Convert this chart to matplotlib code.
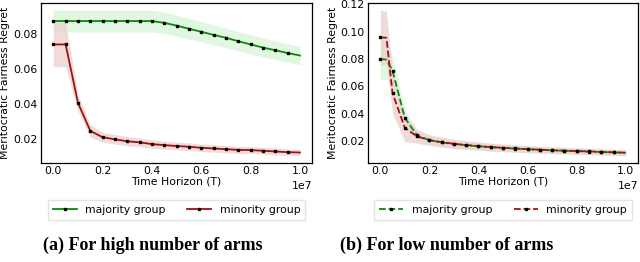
import numpy as np
import matplotlib
matplotlib.use("Agg")
import matplotlib.pyplot as plt

plt.rcParams.update({'font.size': 7.8, 'font.family': 'DejaVu Sans'})

# time horizon (in units of 1e7)
t_high = [0.0, 0.05, 0.1, 0.15, 0.2, 0.25, 0.3, 0.35, 0.4, 0.45, 0.5,
          0.55, 0.6, 0.65, 0.7, 0.75, 0.8, 0.85, 0.9, 0.95, 1.0]
maj_high = [0.0871, 0.0871, 0.0871, 0.0871, 0.0871, 0.0871, 0.0871, 0.0871, 0.0871,
            0.0861, 0.0845, 0.0827, 0.0810, 0.0792, 0.0776, 0.0756, 0.0738,
            0.0720, 0.0705, 0.0689, 0.0675]
maj_high_sd = [0.0062, 0.0062, 0.0062, 0.0062, 0.0062, 0.0062, 0.0062, 0.0062, 0.0062,
               0.0061, 0.0060, 0.0059, 0.0058, 0.0057, 0.0056, 0.0055, 0.0055,
               0.0054, 0.0053, 0.0053, 0.0052]
min_high = [0.0738, 0.0738, 0.0406, 0.0246, 0.0210, 0.0198, 0.0187, 0.0181, 0.0171,
            0.0165, 0.0160, 0.0156, 0.0150, 0.0146, 0.0142, 0.0138, 0.0137,
            0.0133, 0.0129, 0.0125, 0.0123]
min_high_sd = [0.0127, 0.0127, 0.0045, 0.0035, 0.0028, 0.0027, 0.0026, 0.0025, 0.0024,
               0.0023, 0.0022, 0.0022, 0.0021, 0.0021, 0.0020, 0.0020, 0.0019,
               0.0019, 0.0019, 0.0018, 0.0018]

t_low = [0.0, 0.025, 0.05, 0.1, 0.15, 0.2, 0.25, 0.3, 0.35, 0.4, 0.45, 0.5,
         0.55, 0.6, 0.65, 0.7, 0.75, 0.8, 0.85, 0.9, 0.95, 1.0]
maj_low = [0.0799, 0.0795, 0.0713, 0.0368, 0.0239, 0.0205, 0.0188, 0.0177, 0.0168,
           0.0160, 0.0153, 0.0148, 0.0143, 0.0138, 0.0134, 0.0130, 0.0127,
           0.0124, 0.0121, 0.0118, 0.0115, 0.0112]
maj_low_sd = [0.0150, 0.0145, 0.0110, 0.0060, 0.0040, 0.0035, 0.0032, 0.0030, 0.0029,
              0.0028, 0.0027, 0.0026, 0.0025, 0.0024, 0.0024, 0.0023, 0.0023,
              0.0022, 0.0022, 0.0021, 0.0021, 0.0021]
min_low = [0.0957, 0.0955, 0.0548, 0.0295, 0.0232, 0.0205, 0.0190, 0.0178, 0.0169,
           0.0161, 0.0154, 0.0149, 0.0144, 0.0139, 0.0135, 0.0131, 0.0128,
           0.0125, 0.0122, 0.0119, 0.0116, 0.0113]
min_low_sd = [0.0200, 0.0195, 0.0150, 0.0100, 0.0050, 0.0040, 0.0036, 0.0034, 0.0032,
              0.0030, 0.0029, 0.0028, 0.0027, 0.0026, 0.0025, 0.0025, 0.0024,
              0.0024, 0.0023, 0.0023, 0.0022, 0.0022]

labels = ['majority group', 'minority group']
captions = ['(a) For high number of arms', '(b) For low number of arms']

green, red = '#0a8a0a', '#a31010'
fgreen, fred = '#ddf6dd', '#ecd0d0'


def panel(ax, t, series, ls, marks):
    t = np.array(t) * 1e7
    handles = []
    for (m, sd), c, fc in zip(series, [green, red], [fgreen, fred]):
        m, sd = np.array(m), np.array(sd)
        ax.fill_between(t, m - sd, m + sd, color=fc, alpha=0.85 if c == green else 0.75, lw=0)
    for (m, sd), c in zip(series, [green, red]):
        h, = ax.plot(t, m, ls, color=c, lw=1.3, marker='s', markersize=1.6,
                     markerfacecolor='black', markeredgecolor='black', markevery=marks)
        handles.append(h)
    ax.set_xlabel('Time Horizon (T)', labelpad=0)
    ax.set_ylabel('Meritocratic Fairness Regret', labelpad=2)
    ax.tick_params(length=0, pad=2.5)
    for s in ax.spines.values():
        s.set_color('black')
        s.set_linewidth(0.9)
    ax.xaxis.get_offset_text().set_fontsize(7.8)
    return handles


fig = plt.figure(figsize=(6.4, 2.62), dpi=100)
ax1 = fig.add_axes([0.064, 0.378, 0.424, 0.611])
ax2 = fig.add_axes([0.575, 0.378, 0.422, 0.611])

h1 = panel(ax1, t_high, [(maj_high, maj_high_sd), (min_high, min_high_sd)], '-',
           list(range(len(t_high) - 1)))
h2 = panel(ax2, t_low, [(maj_low, maj_low_sd), (min_low, min_low_sd)], '--',
           [0] + list(range(2, len(t_low) - 1)))
ax1.set_yticks([0.02, 0.04, 0.06, 0.08])
ax2.set_yticks([0.02, 0.04, 0.06, 0.08, 0.10, 0.12])

for h, cx in [(h1, 0.276), (h2, 0.786)]:
    fig.legend(h, labels, ncol=2, loc='center', bbox_to_anchor=(cx, 0.198),
               fontsize=7.8, frameon=True, fancybox=False, edgecolor='#dddddd',
               handlelength=2.2, handletextpad=0.8, columnspacing=2.0,
               borderpad=0.45)

fig.text(0.238, 0.065, captions[0], ha='center', va='center',
         family='Liberation Serif', weight='bold', fontsize=13)
fig.text(0.698, 0.065, captions[1], ha='center', va='center',
         family='Liberation Serif', weight='bold', fontsize=13)

fig.savefig('out.png', dpi=100)
